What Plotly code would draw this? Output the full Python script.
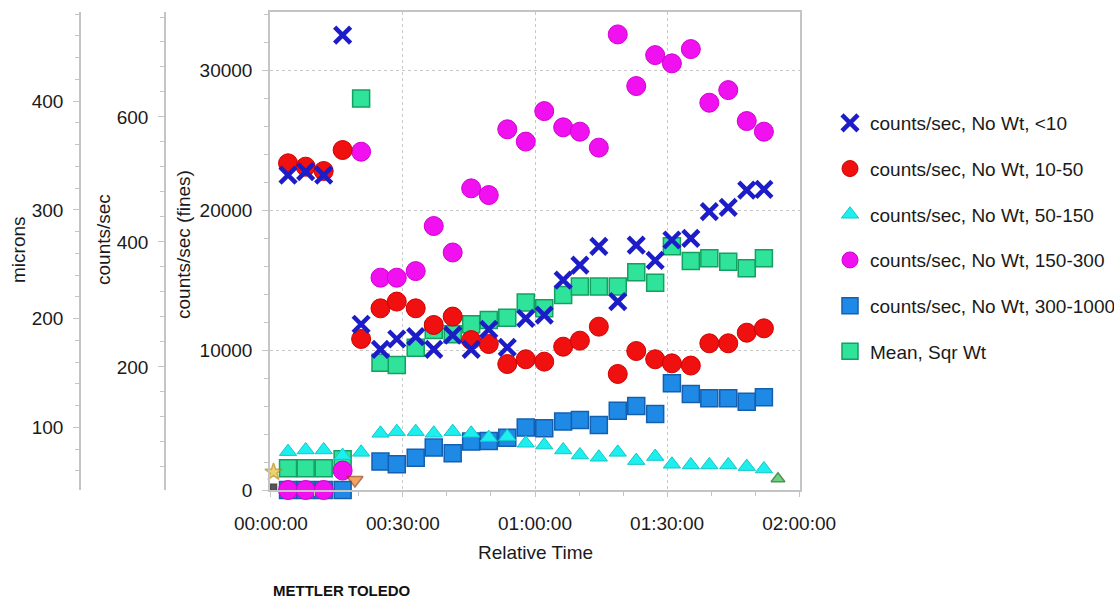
import plotly.graph_objects as go

# ---------------- data ----------------
time_min = [3.9, 7.9, 12.0, 16.3, 20.5, 24.9, 28.6, 32.9, 37.0, 41.3, 45.5, 49.5, 53.7,
            57.9, 62.1, 66.4, 70.2, 74.5, 78.8, 83.0, 87.3, 91.1, 95.4, 99.6, 103.9,
            108.1, 112.0]

lt10 = [22500, 22740, 22500, 32500, 11840, 10050, 10790, 10960, 10050, 11070, 10050,
        11480, 10190, 12260, 12500, 15000, 16070, 17400, 13460, 17500, 16400, 17860,
        17980, 19890, 20190, 21430, 21480]
r10_50 = [23340, 23100, 22790, 24290, 10790, 12980, 13460, 12980, 11790, 12390, 10710,
          10430, 9000, 9340, 9170, 10240, 10670, 11670, 8290, 9930, 9340, 9050, 8890,
          10480, 10480, 11240, 11550]
r50_150 = [2740, 2860, 2860, 2460, 2690, 4050, 4170, 4170, 4050, 4170, 4050, 3740, 3810,
           3340, 3210, 2860, 2500, 2340, 2690, 2100, 2390, 1840, 1790, 1790, 1790, 1670,
           1500]
r150_300 = [0, 0, 0, 1390, 24170, 15170, 15170, 15640, 18860, 16970, 21550, 21070, 25770,
            24890, 27070, 25910, 25600, 24460, 32550, 28860, 31070, 30480, 31500, 27670,
            28570, 26360, 25600]
r300_1000 = [0, 0, 0, 0, None, 2030, 1840, 2310, 3030, 2620, 3460, 3500, 3740, 4460, 4410,
             4890, 5000, 4640, 5670, 6000, 5430, 7620, 6860, 6550, 6550, 6310, 6620]
mean_sqr = [1550, 1550, 1550, 2190, 27970, 9100, 8930, 10170, 11430, 11120, 11840, 12140,
            12310, 13390, 12980, 13930, 14530, 14530, 14530, 15550, 14810, 17410, 16360,
            16550, 16310, 15840, 16550]

# event markers near the baseline (on the secondary axes)
event_microns_t = [0.6, 0.6]
event_microns_v = [59, 45]
event_counts_t = [19.1, 115.2]
event_counts_v = [19, 21]

series_names = ["counts/sec, No Wt, <10", "counts/sec, No Wt, 10-50",
                "counts/sec, No Wt, 50-150", "counts/sec, No Wt, 150-300",
                "counts/sec, No Wt, 300-1000", "Mean, Sqr Wt"]

x_tick_vals = [0, 30, 60, 90, 120]
x_tick_text = ["00:00:00", "00:30:00", "01:00:00", "01:30:00", "02:00:00"]

# ---------------- styling ----------------
W, H = 1114, 601
FONT = "Liberation Sans, Arial, sans-serif"
FS = 19
TXT = "#1a1a1a"
AX = "#c4c4c4"

def px_x(p):
    return p / W

def px_y(p):
    return 1 - p / H

fig = go.Figure()

# drawing order (back to front); legendrank keeps legend order
fig.add_trace(go.Scatter(x=time_min, y=mean_sqr, mode="markers", name=series_names[5],
                         legendrank=6, legendgroup="g6", cliponaxis=False,
                         marker=dict(symbol="square", size=17, color="#2fe39a",
                                     line=dict(color="#14a060", width=1.5))))
fig.add_trace(go.Scatter(x=time_min, y=r300_1000, mode="markers", name=series_names[4],
                         legendrank=5, legendgroup="g5", cliponaxis=False,
                         marker=dict(symbol="square", size=17, color="#1f8ae6",
                                     line=dict(color="#145fb0", width=1.5))))
fig.add_trace(go.Scatter(x=time_min, y=r150_300, mode="markers", name=series_names[3],
                         legendrank=4, legendgroup="g4", cliponaxis=False,
                         marker=dict(symbol="circle", size=19, color="#f010f0",
                                     line=dict(color="#d000d0", width=1))))
fig.add_trace(go.Scatter(x=time_min, y=r50_150, mode="markers", name=series_names[2],
                         legendrank=3, legendgroup="g3", cliponaxis=False,
                         marker=dict(symbol="triangle-up", size=15, color="#1eeeee",
                                     line=dict(color="#10c8c8", width=1))))
fig.add_trace(go.Scatter(x=time_min, y=r10_50, mode="markers", name=series_names[1],
                         legendrank=2, legendgroup="g2", cliponaxis=False,
                         marker=dict(symbol="circle", size=19, color="#f01010",
                                     line=dict(color="#d00000", width=1))))
fig.add_trace(go.Scatter(x=time_min, y=lt10, mode="markers", name=series_names[0],
                         legendrank=1, legendgroup="g1", cliponaxis=False,
                         marker=dict(symbol="x-thin", size=16, color="#1c1cc8",
                                     line=dict(color="#1c1cc8", width=4.5))))
fig.add_trace(go.Scatter(x=event_microns_t, y=event_microns_v, yaxis="y3", mode="markers",
                         showlegend=False, cliponaxis=False,
                         marker=dict(symbol=["star", "square"], size=[13, 6],
                                     color=["#e8c030", "#101010"],
                                     line=dict(color=["#b08a10", "#000000"], width=1.5))))
fig.add_trace(go.Scatter(x=event_counts_t, y=event_counts_v, yaxis="y2", mode="markers",
                         showlegend=False, cliponaxis=False,
                         marker=dict(symbol=["triangle-down", "triangle-up"], size=[14, 12],
                                     color=["#f07a20", "#30c040"],
                                     line=dict(color=["#904010", "#106020"], width=1.5))))

x0, x1 = px_x(270), px_x(800)
y0, y1 = px_y(490), px_y(12)

common_y = dict(domain=[y0, y1], showline=True, linecolor=AX, linewidth=1.5,
                zeroline=False, ticks="outside", ticklen=6, tickcolor=AX,
                ticklabelstandoff=6, tickformat="d",
                tickfont=dict(size=FS, color=TXT, family=FONT))

fig.update_layout(
    width=W, height=H,
    margin=dict(l=0, r=0, t=0, b=0, autoexpand=False),
    paper_bgcolor="white", plot_bgcolor="white",
    font=dict(family=FONT, size=FS, color=TXT),
    xaxis=dict(domain=[x0, x1], range=[-0.2, 120.2], automargin=False,
               tickvals=x_tick_vals, ticktext=x_tick_text,
               showline=True, linecolor=AX, linewidth=1.5, mirror=True,
               showgrid=True, gridcolor="#c8c8c8", griddash="dot", gridwidth=1,
               zeroline=False, ticks="outside", ticklen=5, tickcolor=AX,
               ticklabelstandoff=10,
               minor=dict(dtick=10, tick0=0, ticks="outside", ticklen=4,
                          tickcolor=AX, showgrid=False),
               tickfont=dict(size=FS, color=TXT, family=FONT)),
    yaxis=dict(range=[0, 34150], tickvals=[0, 10000, 20000, 30000], mirror=True,
               automargin=False,
               showgrid=True, gridcolor="#c8c8c8", griddash="dot", gridwidth=1,
               minor=dict(dtick=2000, tick0=0, ticks="outside", ticklen=4,
                          tickcolor=AX, showgrid=False),
               **common_y),
    yaxis2=dict(range=[3, 768], overlaying="y", anchor="free", automargin=False,
                position=px_x(165), side="left", tickvals=[0, 200, 400, 600],
                showgrid=False,
                minor=dict(dtick=40, tick0=0, ticks="outside", ticklen=4,
                           tickcolor=AX, showgrid=False),
                **common_y),
    yaxis3=dict(range=[42.5, 482], overlaying="y", anchor="free", automargin=False,
                position=px_x(80), side="left", tickvals=[100, 200, 300, 400],
                showgrid=False,
                minor=dict(dtick=20, tick0=0, ticks="outside", ticklen=4,
                           tickcolor=AX, showgrid=False),
                **common_y),
    legend=dict(x=px_x(830), y=px_y(104), xanchor="left", yanchor="top",
                font=dict(size=FS, color=TXT, family=FONT),
                bgcolor="rgba(0,0,0,0)", tracegroupgap=18, itemsizing="trace"),
    showlegend=True,
)

annotations = [
    dict(text="microns", x=px_x(18), y=px_y(250), textangle=-90),
    dict(text="counts/sec", x=px_x(103), y=px_y(240), textangle=-90),
    dict(text="counts/sec (fines)", x=px_x(183), y=px_y(245), textangle=-90),
    dict(text="Relative Time", x=px_x(535), y=px_y(552), textangle=0),
]
for a in annotations:
    fig.add_annotation(xref="paper", yref="paper", showarrow=False,
                       xanchor="center", yanchor="middle",
                       font=dict(size=FS, color=TXT, family=FONT), **a)
fig.add_annotation(xref="paper", yref="paper", showarrow=False,
                   text="<b>METTLER TOLEDO</b>", x=px_x(271), y=px_y(590),
                   xanchor="left", yanchor="middle",
                   font=dict(size=15, color="#111111", family=FONT))

fig.write_html("out.html")
